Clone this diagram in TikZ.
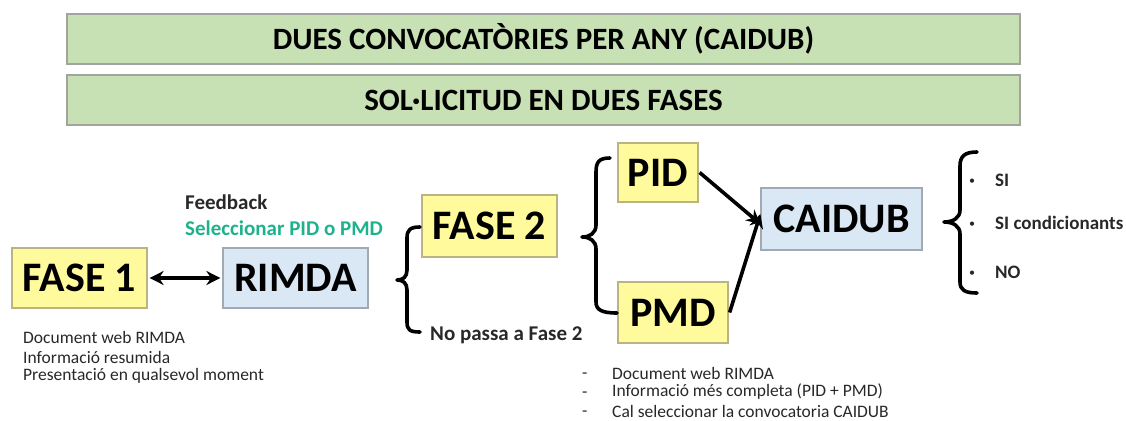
\documentclass[tikz,border=0pt]{standalone}
\usepackage{fontspec}
\setmainfont{Carlito}
\usetikzlibrary{arrows.meta}
\definecolor{bannerfill}{RGB}{199,224,180}
\definecolor{bannerdraw}{RGB}{160,165,160}
\definecolor{yfill}{RGB}{255,250,155}
\definecolor{ydraw}{RGB}{185,180,130}
\definecolor{bfill}{RGB}{218,232,245}
\definecolor{bdraw}{RGB}{160,170,180}
\definecolor{tealg}{RGB}{30,178,140}
\definecolor{txtgray}{RGB}{40,40,40}
\tikzset{
  banner/.style={draw=bannerdraw, fill=bannerfill, line width=1.2pt, minimum width=953pt, minimum height=50pt, inner sep=0pt, font=\fontsize{31}{34}\selectfont\bfseries},
  ybox/.style={draw=ydraw, fill=yfill, line width=1.2pt, inner sep=0pt, font=\fontsize{42}{46}\selectfont\bfseries},
  bbox/.style={draw=bdraw, fill=bfill, line width=1.2pt, inner sep=0pt, font=\fontsize{42}{46}\selectfont\bfseries},
  smalltxt/.style={anchor=west, inner sep=0pt, font=\fontsize{17.5}{20}\selectfont, text=txtgray},
  boldtxt/.style={anchor=west, inner sep=0pt, font=\fontsize{19}{22}\selectfont\bfseries, text=txtgray},
  bul/.style={anchor=center, inner sep=0pt, font=\fontsize{12}{14}\selectfont, text=txtgray},
  midtxt/.style={anchor=west, inner sep=0pt, font=\fontsize{21}{24}\selectfont\bfseries},
  conn/.style={line width=3.6pt, -{Stealth[length=14pt,width=14pt]}},
  bracepath/.style={line width=3.6pt, line cap=round, line join=round}
}
\begin{document}
\begin{tikzpicture}[x=1pt,y=-1pt]
\useasboundingbox (0,0) rectangle (1126,420);
% banners
\node[banner] (b1) at (543.5,39) {DUES CONVOCATÒRIES PER ANY (CAIDUB)};
\node[banner] (b2) at (543.5,100) {SOL·LICITUD EN DUES FASES};
% boxes
\node[ybox, minimum width=135pt, minimum height=60pt] (f1) at (79.5,278) {FASE 1};
\node[bbox, minimum width=145pt, minimum height=60pt] (rimda) at (295.5,278) {RIMDA};
\node[ybox, minimum width=135pt, minimum height=62pt] (f2) at (489.5,226) {FASE 2};
\node[ybox, minimum width=80pt, minimum height=59pt] (pid) at (658,172.5) {PID};
\node[ybox, minimum width=110pt, minimum height=61pt] (pmd) at (673,312.5) {PMD};
\node[bbox, minimum width=161pt, minimum height=62pt] (caidub) at (841.5,219) {CAIDUB};
% connectors
\draw[line width=3.6pt, {Stealth[length=14pt,width=14pt]}-{Stealth[length=14pt,width=14pt]}] ([xshift=2pt]f1.east) -- ([xshift=-2pt]rimda.west);
\draw[conn] ([xshift=1pt]pid.east) -- ([yshift=-5pt]caidub.west);
\draw[conn] ([xshift=1pt]pmd.east) -- ([yshift=5pt]caidub.west);
% labels
\node[midtxt, text=txtgray] (fb) at (185,202) {Feedback};
\node[midtxt, text=tealg] (sel) at (185,228) {Seleccionar PID o PMD};
\node[smalltxt] (l1) at (23,337) {Document web RIMDA};
\node[smalltxt] (l2) at (23,357) {Informació resumida};
\node[smalltxt] (l3) at (23,376) {Presentació en qualsevol moment};
\node[boldtxt, font=\fontsize{21}{24}\selectfont\bfseries] (np) at (430,335) {No passa a Fase 2};
\node[boldtxt] (si) at (995,180) {SI};
\node[boldtxt] (sic) at (995,223) {SI condicionants};
\node[boldtxt] (no) at (995,272) {NO};
\node[bul] (d1) at (972,182) {•};
\node[bul] (d2) at (972,225) {•};
\node[bul] (d3) at (972,274) {•};
\node[smalltxt] (m1) at (612,373) {Document web RIMDA};
\node[smalltxt] (m2) at (612,392) {Informació més completa (PID + PMD)};
\node[smalltxt] (m3) at (612,411) {Cal seleccionar la convocatoria CAIDUB};
\node[smalltxt] (h1) at (582,376) {-};
\node[smalltxt] (h2) at (582,395) {-};
\node[smalltxt] (h3) at (582,414) {-};
% braces
\draw[bracepath] (420,227) .. controls (410,227) and (407,230) .. (407,238) -- (407,270) .. controls (407,277) and (403,280) .. (397,280) .. controls (403,280) and (407,283) .. (407,290) -- (407,322) .. controls (407,330) and (410,332) .. (420,332);
\draw[bracepath] (610,158) .. controls (599,158) and (596,162) .. (596,172) -- (596,225) .. controls (596,233) and (590,237) .. (582,237) .. controls (590,237) and (596,241) .. (596,249) -- (596,302) .. controls (596,310) and (602,313) .. (617,313);
\draw[bracepath] (977,152) .. controls (965,152) and (960,156) .. (960,166) -- (960,210) .. controls (960,218) and (953,222) .. (944,222) .. controls (953,222) and (960,226) .. (960,234) -- (960,282) .. controls (960,290) and (965,293) .. (977,293);
\end{tikzpicture}
\end{document}
